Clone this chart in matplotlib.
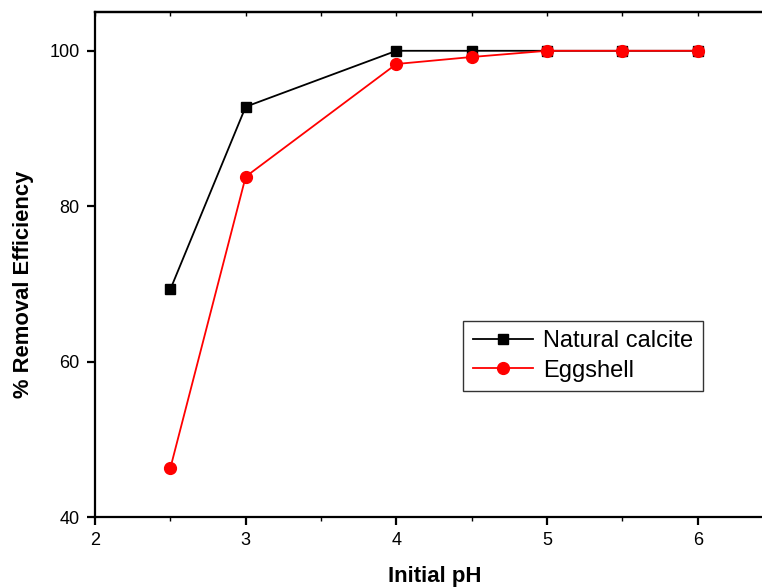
import matplotlib.pyplot as plt
from matplotlib.ticker import MultipleLocator

plt.rcParams['font.family'] = ['Liberation Sans', 'DejaVu Sans']

PH = [2.5, 3, 4, 4.5, 5, 5.5, 6]
CALCITA = [69.3, 92.8, 100, 100, 100, 100, 100]
CASCARA = [46.3, 83.8, 98.3, 99.2, 100, 100, 100]


def main():
    fig = plt.figure(figsize=(7.62, 5.88), dpi=100)
    ax = fig.add_axes([0.1247, 0.1207, 0.8898, 0.859])

    ax.plot(PH, CALCITA, color='black', lw=1.3, marker='s', ms=7,
            mec='black', mfc='black', label='Natural calcite')
    ax.plot(PH, CASCARA, color='red', lw=1.3, marker='o', ms=8.5,
            mec='red', mfc='red', label='Eggshell')

    ax.set_xlim(2, 6.5)
    ax.set_ylim(40, 105)
    ax.xaxis.set_major_locator(MultipleLocator(1))
    ax.xaxis.set_minor_locator(MultipleLocator(0.5))
    ax.yaxis.set_major_locator(MultipleLocator(20))

    for s in ax.spines.values():
        s.set_linewidth(1.6)
    ax.spines['right'].set_visible(False)

    ax.tick_params(axis='both', which='major', direction='out', length=6,
                   width=1.6, labelsize=13, pad=5)
    ax.tick_params(axis='x', which='minor', direction='out', length=3, width=1)

    ax2 = ax.secondary_xaxis('top')
    ax2.xaxis.set_major_locator(MultipleLocator(0.5))
    ax2.tick_params(direction='in', length=3, width=1, labeltop=False)
    ax2.spines['top'].set_linewidth(1.6)

    ax.set_xlabel('Initial pH', fontsize=16, fontweight='bold')
    ax.xaxis.set_label_coords(0.5015, -0.097)
    ax.set_ylabel('% Removal Efficiency', fontsize=15.8, fontweight='bold',
                  va='center')
    ax.yaxis.set_label_coords(-0.106, 0.461)

    leg = ax.legend(loc='upper left', bbox_to_anchor=(0.543, 0.388),
                    fontsize=17, fancybox=False, edgecolor='black',
                    handlelength=2.55, borderpad=0.4, labelspacing=0.3,
                    handletextpad=0.45, borderaxespad=0)
    leg.get_frame().set_linewidth(1)

    fig.savefig('out.png', dpi=100)


if __name__ == "__main__":
    main()
